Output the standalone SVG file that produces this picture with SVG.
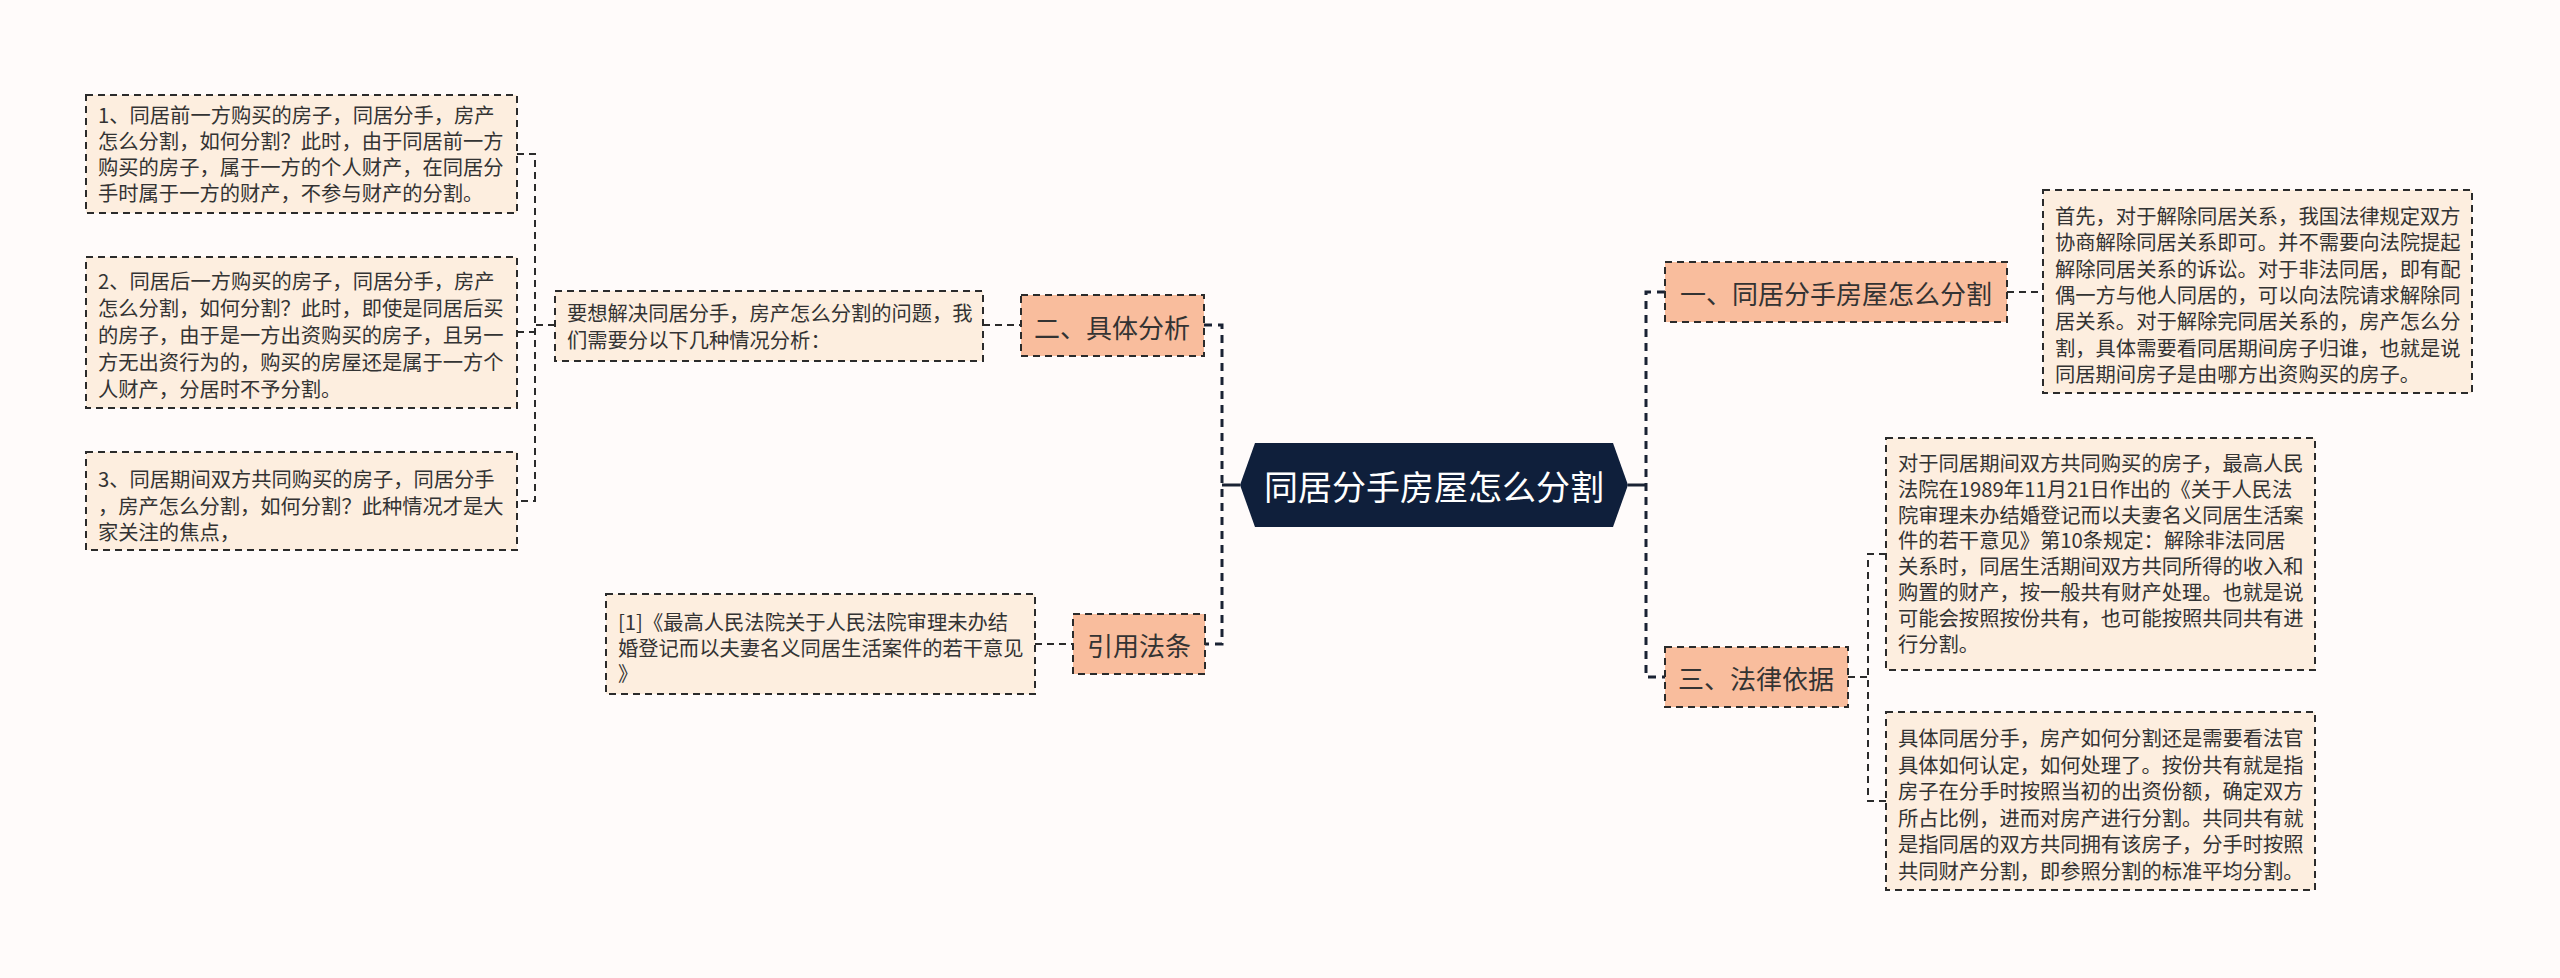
<svg xmlns="http://www.w3.org/2000/svg" width="2560" height="978" viewBox="0 0 2560 978">
<style>
.bg{fill:#fffbfa}
.leaf{fill:#fdeedf;stroke:#2b2b2b;stroke-width:2;stroke-dasharray:7 5}
.sub{fill:#f9bd9d;stroke:#2b2b2b;stroke-width:2;stroke-dasharray:7 5}
.t{font-family:"Noto Sans CJK SC","Noto Sans",sans-serif;font-size:20.3px;fill:#333333;dominant-baseline:central}
.ts{font-family:"Noto Sans CJK SC","Noto Sans",sans-serif;font-size:26px;fill:#333333;dominant-baseline:central;text-anchor:middle}
.tc{font-family:"Noto Sans CJK SC","Noto Sans",sans-serif;font-size:34px;fill:#ffffff;dominant-baseline:central;text-anchor:middle}
.c1{fill:none;stroke:#1a2233;stroke-width:3;stroke-dasharray:8 6}
.c2{fill:none;stroke:#2b2b2b;stroke-width:2;stroke-dasharray:7 5}
.cs{fill:none;stroke:#1a2233;stroke-width:3}
</style>
<rect class="bg" x="0" y="0" width="2560" height="978"/>
<g id="connectors">
<path class="cs" d="M1240 485 H1222"/>
<path class="c1" d="M1204 325 H1222 V644 H1205"/>
<path class="cs" d="M1628 485 H1646"/>
<path class="c1" d="M1665 292 H1646 V677 H1665"/>
<path class="c2" d="M2007 292 H2043"/>
<path class="c2" d="M1848 677 H1868"/>
<path class="c2" d="M1886 554 H1868 V801 H1886"/>
<path class="c2" d="M983 325 H1021"/>
<path class="c2" d="M555 325 H535"/>
<path class="c2" d="M517 154 H535 V501 H517"/>
<path class="c2" d="M517 332 H535"/>
<path class="c2" d="M1035 644 H1073"/>
</g>
<g id="center">
<polygon points="1240,485 1255,443 1613,443 1628,485 1613,527 1255,527" fill="#0f1f3b"/>
<text class="tc" x="1434" y="485">同居分手房屋怎么分割</text>
</g>
<g id="n1">
<rect class="sub" x="1665" y="262" width="342" height="60"/>
<text class="ts" x="1836" y="292">一、同居分手房屋怎么分割</text>
</g>
<g id="n1a">
<rect class="leaf" x="2043" y="190" width="429" height="203"/>
<text class="t" x="2055" y="215">首先，对于解除同居关系，我国法律规定双方</text>
<text class="t" x="2055" y="241.3">协商解除同居关系即可。并不需要向法院提起</text>
<text class="t" x="2055" y="267.6">解除同居关系的诉讼。对于非法同居，即有配</text>
<text class="t" x="2055" y="293.9">偶一方与他人同居的，可以向法院请求解除同</text>
<text class="t" x="2055" y="320.2">居关系。对于解除完同居关系的，房产怎么分</text>
<text class="t" x="2055" y="346.5">割，具体需要看同居期间房子归谁，也就是说</text>
<text class="t" x="2055" y="372.8">同居期间房子是由哪方出资购买的房子。</text>
</g>
<g id="n3">
<rect class="sub" x="1665" y="647" width="183" height="60"/>
<text class="ts" x="1756" y="677">三、法律依据</text>
</g>
<g id="n3a">
<rect class="leaf" x="1886" y="438" width="429" height="232"/>
<text class="t" x="1898" y="462">对于同居期间双方共同购买的房子，最高人民</text>
<text class="t" x="1898" y="487.8">法院在1989年11月21日作出的《关于人民法</text>
<text class="t" x="1898" y="513.6">院审理未办结婚登记而以夫妻名义同居生活案</text>
<text class="t" x="1898" y="539.4">件的若干意见》第10条规定：解除非法同居</text>
<text class="t" x="1898" y="565.2">关系时，同居生活期间双方共同所得的收入和</text>
<text class="t" x="1898" y="591">购置的财产，按一般共有财产处理。也就是说</text>
<text class="t" x="1898" y="616.8">可能会按照按份共有，也可能按照共同共有进</text>
<text class="t" x="1898" y="642.6">行分割。</text>
</g>
<g id="n3b">
<rect class="leaf" x="1886" y="712" width="429" height="178"/>
<text class="t" x="1898" y="737">具体同居分手，房产如何分割还是需要看法官</text>
<text class="t" x="1898" y="763.6">具体如何认定，如何处理了。按份共有就是指</text>
<text class="t" x="1898" y="790.2">房子在分手时按照当初的出资份额，确定双方</text>
<text class="t" x="1898" y="816.8">所占比例，进而对房产进行分割。共同共有就</text>
<text class="t" x="1898" y="843.4">是指同居的双方共同拥有该房子，分手时按照</text>
<text class="t" x="1898" y="870">共同财产分割，即参照分割的标准平均分割。</text>
</g>
<g id="n2">
<rect class="sub" x="1021" y="295" width="183" height="61"/>
<text class="ts" x="1112" y="326">二、具体分析</text>
</g>
<g id="n2a">
<rect class="leaf" x="555" y="291" width="428" height="70"/>
<text class="t" x="567" y="312">要想解决同居分手，房产怎么分割的问题，我</text>
<text class="t" x="567" y="339">们需要分以下几种情况分析：</text>
</g>
<g id="n2a1">
<rect class="leaf" x="86" y="95" width="431" height="118"/>
<text class="t" x="98" y="114">1、同居前一方购买的房子，同居分手，房产</text>
<text class="t" x="98" y="140">怎么分割，如何分割？此时，由于同居前一方</text>
<text class="t" x="98" y="166">购买的房子，属于一方的个人财产，在同居分</text>
<text class="t" x="98" y="192">手时属于一方的财产，不参与财产的分割。</text>
</g>
<g id="n2a2">
<rect class="leaf" x="86" y="257" width="431" height="151"/>
<text class="t" x="98" y="280">2、同居后一方购买的房子，同居分手，房产</text>
<text class="t" x="98" y="307">怎么分割，如何分割？此时，即使是同居后买</text>
<text class="t" x="98" y="334">的房子，由于是一方出资购买的房子，且另一</text>
<text class="t" x="98" y="361">方无出资行为的，购买的房屋还是属于一方个</text>
<text class="t" x="98" y="388">人财产，分居时不予分割。</text>
</g>
<g id="n2a3">
<rect class="leaf" x="86" y="452" width="431" height="98"/>
<text class="t" x="98" y="478">3、同居期间双方共同购买的房子，同居分手</text>
<text class="t" x="98" y="505">，房产怎么分割，如何分割？此种情况才是大</text>
<text class="t" x="98" y="531">家关注的焦点，</text>
</g>
<g id="n4">
<rect class="sub" x="1073" y="614" width="132" height="60"/>
<text class="ts" x="1139" y="644">引用法条</text>
</g>
<g id="n4a">
<rect class="leaf" x="606" y="594" width="429" height="100"/>
<text class="t" x="618" y="621">[1]《最高人民法院关于人民法院审理未办结</text>
<text class="t" x="618" y="647">婚登记而以夫妻名义同居生活案件的若干意见</text>
<text class="t" x="618" y="672">》</text>
</g>
</svg>
